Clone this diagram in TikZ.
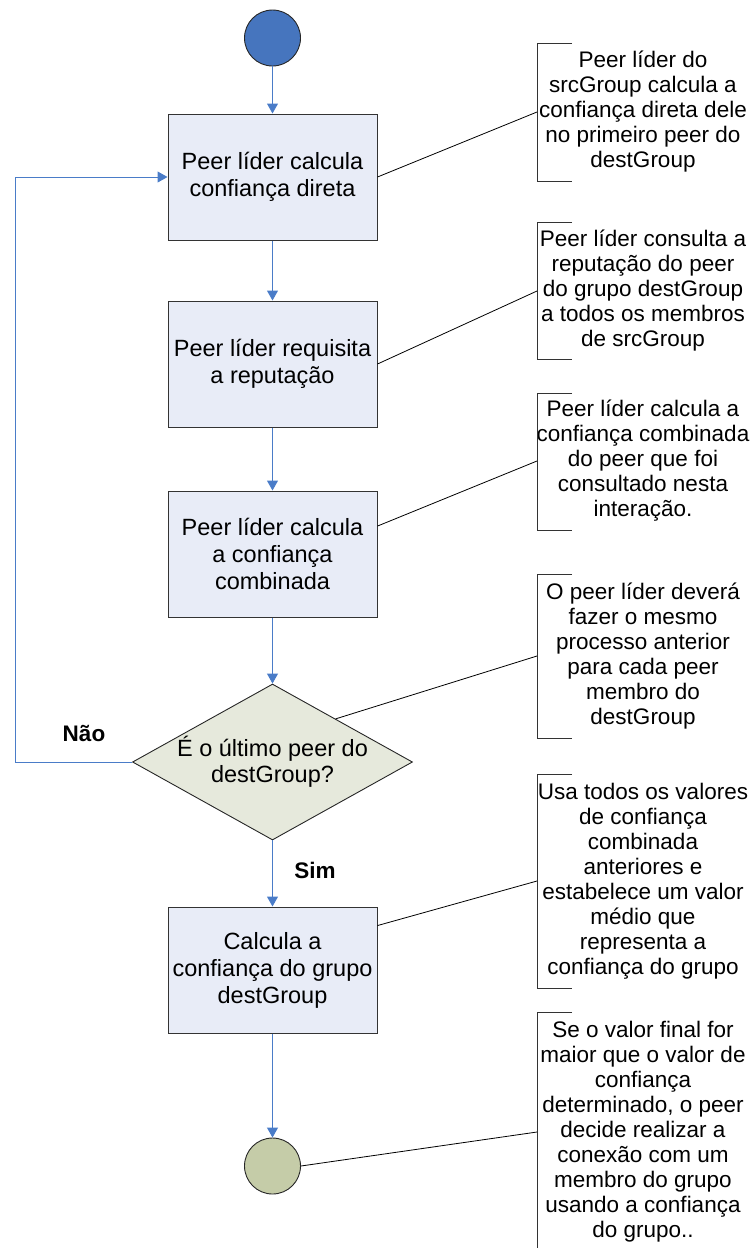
\documentclass[tikz,border=0pt]{standalone}
\usepackage{fontspec}
\setmainfont{Liberation Sans}
\usetikzlibrary{arrows.meta,shapes.geometric,calc}
\definecolor{startblue}{RGB}{70,117,190}
\definecolor{boxfill}{RGB}{232,236,247}
\definecolor{decfill}{RGB}{230,233,220}
\definecolor{endfill}{RGB}{197,204,168}
\definecolor{flowblue}{RGB}{74,124,200}
\begin{document}
\begin{tikzpicture}[x=1pt,y=-1pt,
  box/.style={draw=black!80,line width=1pt,fill=boxfill,minimum width=209pt,minimum height=126pt,inner sep=0pt,align=center,font=\fontsize{23.5}{27}\selectfont},
  dec/.style={diamond,draw=black!85,line width=0.9pt,fill=decfill,minimum width=280pt,minimum height=156pt,inner sep=0pt},
  dectext/.style={align=center,inner sep=0pt,font=\fontsize{23.5}{26}\selectfont},
  term/.style={circle,draw=black!85,line width=0.9pt,minimum size=56pt,inner sep=0pt},
  flow/.style={draw=flowblue,line width=1pt,-{Triangle[width=11pt,length=10pt]}},
  note/.style={align=center,font=\fontsize{22.5}{25}\selectfont,inner sep=0pt},
  bracket/.style={draw=black!80,line width=0.9pt},
  callout/.style={draw=black,line width=0.8pt},
  lbl/.style={font=\fontsize{22.5}{27}\selectfont\bfseries,inner sep=0pt}
]
\useasboundingbox (0,0) rectangle (751,1248);

% flow nodes
\node[term,fill=startblue] (s) at (272.5,38) {};
\node[box] (b1) at (272.5,177) {Peer líder calcula\\confiança direta};
\node[box] (b2) at (272.5,364) {Peer líder requisita\\a reputação};
\node[box] (b3) at (272.5,554) {Peer líder calcula\\a confiança\\combinada};
\node[dec] (d) at (272.5,762) {};
\node[dectext] (dt) at (d.center) {É o último peer do\\destGroup?};
\node[box] (b5) at (272.5,970) {Calcula a\\confiança do grupo\\destGroup};
\node[term,fill=endfill] (e) at (272.5,1166) {};

% flow connectors
\draw[flow] (s) -- (b1);
\draw[flow] (b1) -- (b2);
\draw[flow] (b2) -- (b3);
\draw[flow] (b3) -- (d.north);
\draw[flow] (d.south) -- (b5);
\draw[flow] (b5) -- (e);
\coordinate (lp) at (15,762);
\draw[flow] (d.west) -- (lp) |- (b1.west);

\node[lbl] (nao) at (84,733) {Não};
\node[lbl] (sim) at (315,870) {Sim};

% annotations
\node[note] (a1) at (643,112) {Peer líder do\\srcGroup calcula a\\confiança direta dele\\no primeiro peer do\\destGroup};
\draw[bracket] (572,43) -- (537,43) -- (537,181) -- (572,181);
\coordinate (k1) at (537,112);
\draw[callout] (b1.east) -- (k1);

\node[note] (a2) at (643,291) {Peer líder consulta a\\reputação do peer\\do grupo destGroup\\a todos os membros\\de srcGroup};
\draw[bracket] (572,222) -- (537,222) -- (537,359) -- (572,359);
\coordinate (k2) at (537,291);
\draw[callout] (b2.east) -- (k2);

\node[note] (a3) at (643,461) {Peer líder calcula a\\confiança combinada\\do peer que foi\\consultado nesta\\interação.};
\draw[bracket] (572,393) -- (537,393) -- (537,530) -- (572,530);
\coordinate (k3) at (537,461);
\draw[callout] ($(b3.north east)!0.28!(b3.south east)$) -- (k3);

\node[note] (a4) at (643,656) {O peer líder deverá\\fazer o mesmo\\processo anterior\\para cada peer\\membro do\\destGroup};
\draw[bracket] (572,574) -- (537,574) -- (537,738) -- (572,738);
\coordinate (k4) at (537,656);
\draw[callout] ($(d.north)!0.45!(d.east)$) -- (k4);

\node[note] (a5) at (643,881) {Usa todos os valores\\de confiança\\combinada\\anteriores e\\estabelece um valor\\médio que\\representa a\\confiança do grupo};
\draw[bracket] (572,774) -- (537,774) -- (537,988) -- (572,988);
\coordinate (k5) at (537,881);
\draw[callout] ($(b5.north east)!0.15!(b5.south east)$) -- (k5);

\node[note] (a6) at (643,1132) {Se o valor final for\\maior que o valor de\\confiança\\determinado, o peer\\decide realizar a\\conexão com um\\membro do grupo\\usando a confiança\\do grupo..};
\draw[bracket] (572,1012) -- (537,1012) -- (537,1252) -- (572,1252);
\coordinate (k6) at (537,1132);
\draw[callout] (e.east) -- (k6);
\end{tikzpicture}
\end{document}
